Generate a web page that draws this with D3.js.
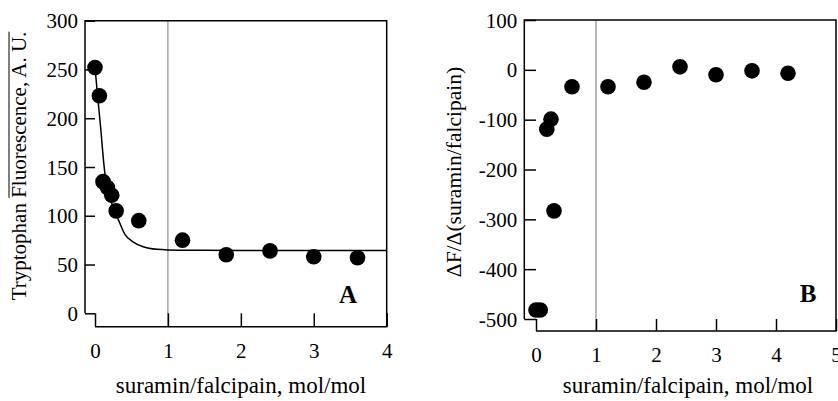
<!DOCTYPE html>
<html>
<head>
<meta charset="utf-8">
<script src="https://cdn.jsdelivr.net/npm/d3@7"></script>
<style>
  body { margin: 0; background: #fff; }
  text { font-family: "Liberation Serif", "Times New Roman", serif; fill: #000; }
</style>
</head>
<body>
<svg id="chart" width="838" height="401"></svg>
<script>
// panel A : tryptophan fluorescence
var ratioA = [0, 0.06, 0.11, 0.17, 0.23, 0.29, 0.6, 1.2, 1.8, 2.4, 3.0, 3.6];
var fluoA  = [252, 223, 135, 129, 121, 105, 95, 75, 60, 64, 58, 57];
// fitted curve
var fitX = [0, 0.037, 0.078, 0.123, 0.147, 0.2, 0.25, 0.32, 0.41, 0.525, 0.66, 0.85, 1.0, 1.5, 2, 3, 4];
var fitY = [252, 222, 190, 152, 137, 120, 108, 96, 81, 73, 68.3, 65.6, 65, 64.6, 64.4, 64.3, 64.3];

// panel B : dF / d(ratio)
var ratioB = [0, 0.07, 0.18, 0.25, 0.3, 0.6, 1.2, 1.8, 2.4, 3.0, 3.6, 4.2];
var dfB    = [-482, -482, -119, -99, -283, -34, -34, -25, 6, -10, -2, -7];

var ticksAx = [0, 1, 2, 3, 4];
var ticksAy = [0, 50, 100, 150, 200, 250, 300];
var ticksBx = [0, 1, 2, 3, 4, 5];
var ticksBy = [-500, -400, -300, -200, -100, 0, 100];

var svg = d3.select("#chart");

// plain hyphen for negatives, like the original
function fmt(d) { return String(d); }

// draws one boxed panel in the offset-axis style of the original
function drawPanel(p) {
    var g = svg.append("g");
    var x = p.x, y = p.y;
    var left = p.left, top = p.top, right = p.right, bottom = p.bottom;
    var x0 = x.range()[0], y0 = y.range()[0];

    // reference line at ratio 1
    g.append("line")
        .attr("x1", x(1)).attr("x2", x(1))
        .attr("y1", top).attr("y2", bottom)
        .attr("stroke", "#777").attr("stroke-width", 1);

    // y ticks (inward)
    var yAxis = g.append("g")
        .attr("transform", "translate(" + left + ",0)")
        .call(d3.axisLeft(y).tickValues(p.yTicks).tickSize(-(x0 - left)).tickPadding(0).tickFormat(fmt));
    yAxis.select(".domain").remove();
    yAxis.selectAll(".tick line").attr("stroke", "#000").attr("stroke-width", 1.5);
    yAxis.selectAll(".tick text")
        .attr("x", -7).attr("dy", "0.34em")
        .style("font-size", "21px").attr("font-family", null);

    // x ticks (inward)
    var xAxis = g.append("g")
        .attr("transform", "translate(0," + bottom + ")")
        .call(d3.axisBottom(x).tickValues(p.xTicks).tickSize(-(bottom - y0)).tickPadding(0).tickFormat(fmt));
    xAxis.select(".domain").remove();
    xAxis.selectAll(".tick line").attr("stroke", "#000").attr("stroke-width", 1.5);
    xAxis.selectAll(".tick text")
        .attr("y", 31).attr("dy", 0)
        .style("font-size", "21px").attr("font-family", null);

    // frame: left spine stops at lowest y tick, bottom spine starts at x = 0
    g.append("path")
        .attr("d", "M" + left + "," + y0 + "V" + top + "H" + right + "V" + bottom + "H" + x0)
        .attr("fill", "none").attr("stroke", "#000").attr("stroke-width", 1.5);

    if (p.fit) {
        var line = d3.line()
            .x(function(d) { return x(d[0]); })
            .y(function(d) { return y(d[1]); })
            .curve(d3.curveMonotoneX);
        g.append("path")
            .datum(p.fit)
            .attr("d", line)
            .attr("fill", "none").attr("stroke", "#000").attr("stroke-width", 1.5);
    }

    g.selectAll("circle.pt")
        .data(p.points)
        .enter().append("circle")
        .attr("class", "pt")
        .attr("cx", function(d) { return x(d[0]); })
        .attr("cy", function(d) { return y(d[1]); })
        .attr("r", 7.8)
        .attr("fill", "#000");

    // panel letter
    g.append("text")
        .attr("x", p.letterX).attr("y", p.letterY)
        .attr("text-anchor", "middle")
        .style("font-size", "25px").style("font-weight", "bold")
        .text(p.letter);

    // x title
    g.append("text")
        .attr("x", p.xTitleX).attr("y", 393)
        .attr("text-anchor", "middle")
        .style("font-size", "23px")
        .text("suramin/falcipain, mol/mol");

    // y title
    var yt = g.append("text")
        .attr("transform", "translate(" + p.yTitleX + "," + p.yTitleY + ") rotate(-90)")
        .attr("text-anchor", "middle")
        .style("font-size", p.yTitleSize);
    return { g: g, yTitle: yt };
}

var xA = d3.scaleLinear().domain([0, 4]).range([95, 386.7]);
var yA = d3.scaleLinear().domain([0, 300]).range([313.3, 20.7]);
var panelA = drawPanel({
    x: xA, y: yA, left: 85, top: 20.7, right: 386.7, bottom: 326.7,
    xTicks: ticksAx, yTicks: ticksAy,
    points: d3.zip(ratioA, fluoA),
    fit: d3.zip(fitX, fitY),
    letter: "A", letterX: 348, letterY: 303,
    xTitleX: 241, yTitleX: 26, yTitleY: 166, yTitleSize: "21px"
});
panelA.yTitle.append("tspan").text("Tryptophan ");
var over = panelA.yTitle.append("tspan").text("Fluorescence, A. U.");
// overline over the second part of the title
var bb = over.node().getBBox();
panelA.g.append("line")
    .attr("x1", 9).attr("x2", 9)
    .attr("y1", 166 - (bb.x + bb.width)).attr("y2", 166 - bb.x)
    .attr("stroke", "#000").attr("stroke-width", 1);

var xB = d3.scaleLinear().domain([0, 5]).range([536, 836]);
var yB = d3.scaleLinear().domain([-500, 100]).range([319, 20]);
var panelB = drawPanel({
    x: xB, y: yB, left: 524.3, top: 20, right: 836, bottom: 331,
    xTicks: ticksBx, yTicks: ticksBy,
    points: d3.zip(ratioB, dfB),
    fit: null,
    letter: "B", letterX: 808, letterY: 302,
    xTitleX: 688, yTitleX: 461, yTitleY: 172, yTitleSize: "21.5px"
});
panelB.yTitle.text("\u0394F/\u0394(suramin/falcipain)");
</script>
</body>
</html>
